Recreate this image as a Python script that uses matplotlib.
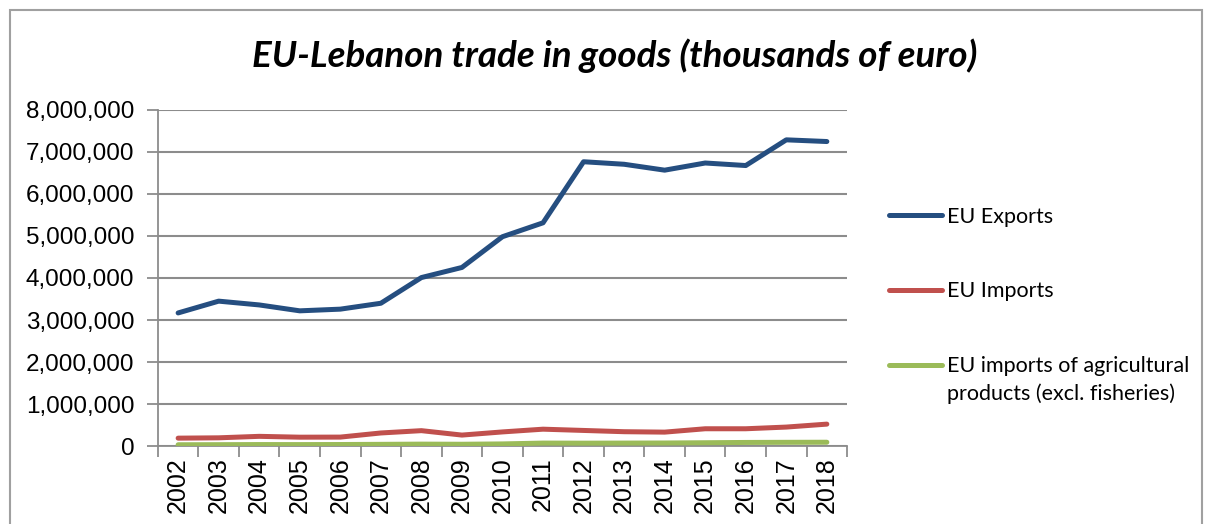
import matplotlib
matplotlib.use("Agg")
import matplotlib.pyplot as plt
from matplotlib.patches import Rectangle
from matplotlib.ticker import FuncFormatter, MultipleLocator

years = [str(y) for y in range(2002, 2019)]
eu_exports = [3170000, 3450000, 3360000, 3220000, 3260000, 3400000, 4010000, 4250000,
              4980000, 5310000, 6760000, 6700000, 6560000, 6730000, 6670000, 7280000, 7240000]
eu_imports = [197000, 205000, 240000, 220000, 222000, 320000, 375000, 270000,
              345000, 410000, 380000, 350000, 340000, 420000, 420000, 460000, 530000]
eu_agri_imports = [40000, 42000, 45000, 44000, 46000, 50000, 55000, 52000,
                   60000, 80000, 78000, 80000, 82000, 88000, 95000, 98000, 100000]

labels = ["EU Exports", "EU Imports", "EU imports of agricultural"]
label_extra = "products (excl. fisheries)"  # second line of the third entry
colors = ["#254e80", "#c0504d", "#9bbb59"]
LEG_FONT = ["Lato", "DejaVu Sans"]

fig = plt.figure(figsize=(12.05, 5.24), dpi=100)
ax = fig.add_axes([0.131, 0.148, 0.572, 0.643])

x = list(range(len(years)))
for ys, lab, c in zip([eu_exports, eu_imports, eu_agri_imports], labels, colors):
    ax.plot(x, ys, color=c, lw=3.6, label=lab, solid_capstyle="round", zorder=3)

ax.set_xlim(-0.5, len(years) - 0.5)
ax.set_ylim(0, 8000000)
ax.yaxis.set_major_locator(MultipleLocator(1000000))
ax.yaxis.set_major_formatter(FuncFormatter(lambda v, p: f"{v:,.0f}"))
ax.grid(axis="y", color="#8c8c8c", lw=1.5)
ax.set_axisbelow(True)

# category-boundary ticks like a spreadsheet chart
ax.set_xticks([i - 0.5 for i in range(len(years) + 1)], minor=False)
ax.set_xticklabels([])
ax.set_xticks(x, minor=True)
ax.set_xticklabels(years, minor=True, rotation=90, fontsize=18,
                   family="Liberation Sans")
ax.tick_params(axis="x", which="minor", length=0, pad=8)
ax.tick_params(axis="x", which="major", length=8, width=1.3, color="#8c8c8c")
ax.tick_params(axis="y", length=8, width=1.3, color="#8c8c8c", labelsize=17.5, pad=9)
for t in ax.get_yticklabels():
    t.set_family("Liberation Sans")

for s in ["top", "right"]:
    ax.spines[s].set_visible(False)
for s in ["left", "bottom"]:
    ax.spines[s].set_color("#8c8c8c")
    ax.spines[s].set_linewidth(1.3)

fig.text(0.51, 0.893, "EU-Lebanon trade in goods (thousands of euro)",
         ha="center", va="center", fontsize=26.5, fontweight="bold",
         style="italic", family=["Lato", "DejaVu Sans"])

leg = ax.legend(loc="center left", bbox_to_anchor=(1.033, 0.46), frameon=False,
                prop={"family": LEG_FONT, "size": 15.5},
                handlelength=2.45, handletextpad=0.25, labelspacing=2.55)

# excel puts the legend key beside the first line of a wrapped label
fig.canvas.draw()
bb = leg.get_texts()[-1].get_window_extent()
fig.text(bb.x0 / fig.bbox.width, (bb.y0 - 7) / fig.bbox.height, label_extra,
         ha="left", va="top", fontsize=15.5, family=LEG_FONT)

fig.patches.append(Rectangle((10 / 1205, -0.02), 1192 / 1205, 1 - 10 / 524 + 0.02,
                             transform=fig.transFigure, fill=False,
                             edgecolor="#a0a0a0", lw=1.5))

fig.savefig("out.png", dpi=100)
